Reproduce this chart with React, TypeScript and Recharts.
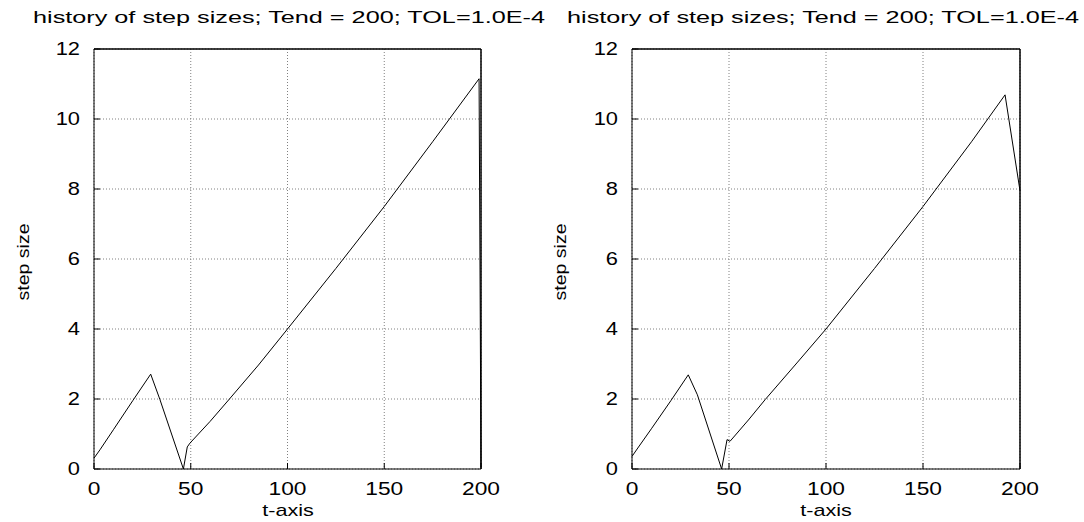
import { LineChart, Line, XAxis, YAxis, CartesianGrid } from "recharts";

const X_TICKS = [0, 50, 100, 150, 200];
const Y_TICKS = [0, 2, 4, 6, 8, 10, 12];
const TITLE = "history of step sizes; Tend = 200; TOL=1.0E-4";
const X_LABEL = "t-axis";
const Y_LABEL = "step size";

// left panel: t and step size
const LEFT_T = [0, 3.1, 10, 20, 29.3, 34.1, 46.2, 48.2, 49.6, 60, 70, 85, 100, 125, 150, 175, 199, 200];
const LEFT_H = [0.31, 0.55, 1.12, 1.95, 2.71, 1.98, 0.0, 0.63, 0.74, 1.36, 2.0, 2.97, 4.0, 5.73, 7.5, 9.35, 11.15, 0.05];

// right panel
const RIGHT_T = [0, 3, 10, 20, 29, 33.7, 46.2, 49, 50.5, 60, 68.6, 85, 100, 125, 150, 175, 192.3, 200];
const RIGHT_H = [0.36, 0.6, 1.15, 1.95, 2.69, 2.12, 0.0, 0.84, 0.79, 1.4, 1.98, 3.03, 4.0, 5.73, 7.5, 9.35, 10.69, 7.95];

const FONT = '"Liberation Sans", Arial, Helvetica, sans-serif';

const toRows = (ts: number[], hs: number[]) => ts.map((t, i) => ({ t, h: hs[i] }));

function YTick({ x, y, payload }: any) {
  return (
    <text
      transform={`translate(${x},${y}) scale(1.25,1)`}
      textAnchor="end"
      dominantBaseline="central"
      fontSize={17.5}
      fontFamily={FONT}
      fill="#000"
    >
      {payload.value}
    </text>
  );
}

function XTick({ x, y, payload }: any) {
  return (
    <text
      transform={`translate(${x},${y}) scale(1.3,1)`}
      textAnchor="middle"
      dominantBaseline="central"
      fontSize={17.5}
      fontFamily={FONT}
      fill="#000"
    >
      {payload.value}
    </text>
  );
}

const NoTick = () => <g />;

function StepPanel({ rows, left, width, yAxisWidth, rightMargin }: any) {
  const black = { stroke: "#000", strokeWidth: 1 };
  const frame = { stroke: "#000", strokeWidth: 1.5 };
  return (
    <div style={{ position: "absolute", left, top: 0, width, height: 522 }}>
      <LineChart width={width} height={522} data={rows} margin={{ top: 48, right: rightMargin - 1, bottom: 0, left: 0 }}>
        <CartesianGrid stroke="#808080" strokeDasharray="1 2" />
        <XAxis dataKey="t" type="number" domain={[0, 200]} ticks={X_TICKS} interval={0} height={53}
          axisLine={black} tickLine={black} tickSize={-6} tickMargin={26} tick={<XTick />} />
        {/* top and right edges of the frame */}
        <XAxis xAxisId="top" orientation="top" dataKey="t" type="number" domain={[0, 200]} ticks={X_TICKS} height={1}
          axisLine={frame} tickLine={false} tick={<NoTick />} />
        <YAxis type="number" domain={[0, 12]} ticks={Y_TICKS} interval={0} width={yAxisWidth}
          axisLine={black} tickLine={black} tickSize={-6} tickMargin={20} tick={<YTick />} />
        <YAxis yAxisId="right" orientation="right" type="number" domain={[0, 12]} ticks={Y_TICKS} width={1}
          axisLine={frame} tickLine={false} tick={<NoTick />} />
        <Line type="linear" dataKey="h" stroke="#000" strokeWidth={1} dot={false} isAnimationActive={false} />
      </LineChart>
    </div>
  );
}

function Labels({ titleX, yLabelX, xLabelX }: any) {
  return (
    <>
      <text x={titleX} y={23} textLength={512} lengthAdjust="spacingAndGlyphs" fontSize={16.5} fontFamily={FONT} fill="#000">
        {TITLE}
      </text>
      <text transform={`translate(${yLabelX},262) rotate(-90) scale(1.15,1)`} textAnchor="middle" dominantBaseline="central"
        fontSize={17} fontFamily={FONT} fill="#000">
        {Y_LABEL}
      </text>
      <text transform={`translate(${xLabelX},516) scale(1.27,1)`} textAnchor="middle" fontSize={17} fontFamily={FONT} fill="#000">
        {X_LABEL}
      </text>
    </>
  );
}

export default function App() {
  return (
    <div style={{ position: "absolute", left: 0, top: 0, width: 1084, height: 522, background: "#fff", overflow: "hidden" }}>
      <StepPanel rows={toRows(LEFT_T, LEFT_H)} left={0} width={540} yAxisWidth={94} rightMargin={59} />
      <StepPanel rows={toRows(RIGHT_T, RIGHT_H)} left={540} width={544} yAxisWidth={92} rightMargin={64} />
      <svg width={1084} height={522} style={{ position: "absolute", left: 0, top: 0, pointerEvents: "none" }}>
        <Labels titleX={33} yLabelX={23} xLabelX={288} />
        <Labels titleX={567} yLabelX={560} xLabelX={826} />
      </svg>
    </div>
  );
}
